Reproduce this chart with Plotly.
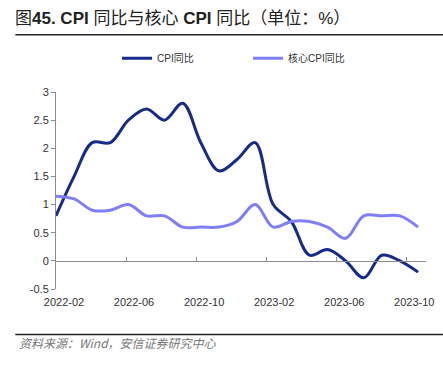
import plotly.graph_objects as go

months = ["2022-02","2022-03","2022-04","2022-05","2022-06","2022-07","2022-08","2022-09","2022-10","2022-11","2022-12",
          "2023-01","2023-02","2023-03","2023-04","2023-05","2023-06","2023-07","2023-08","2023-09","2023-10"]
cpi = [0.8, 1.5, 2.1, 2.1, 2.5, 2.7, 2.5, 2.8, 2.1, 1.6, 1.8, 2.1, 1.0, 0.7, 0.1, 0.2, 0.0, -0.3, 0.1, 0.0, -0.2]
core_cpi = [1.15, 1.1, 0.9, 0.9, 1.0, 0.8, 0.8, 0.6, 0.6, 0.6, 0.7, 1.0, 0.6, 0.7, 0.7, 0.6, 0.4, 0.8, 0.8, 0.8, 0.6]
x_tick_labels = ["2022-02", "2022-06", "2022-10", "2023-02", "2023-06", "2023-10"]
y_tick_vals = [-0.5, 0, 0.5, 1, 1.5, 2, 2.5, 3]
y_tick_text = ["-0.5", "0", "0.5", "1", "1.5", "2", "2.5", "3"]

FONT = "Liberation Sans, Arial, Noto Sans CJK SC"
idx = list(range(len(months)))

fig = go.Figure()
fig.add_trace(go.Scatter(x=idx, y=cpi, name="CPI同比", mode="lines",
                         line=dict(color="#172b8c", width=3, shape="spline", smoothing=1.0),
                         customdata=months))
fig.add_trace(go.Scatter(x=idx, y=core_cpi, name="核心CPI同比", mode="lines",
                         line=dict(color="#7f7ffb", width=3, shape="spline", smoothing=1.0),
                         customdata=months))

step = 3.87
tickpos = [i * step for i in range(len(x_tick_labels))]

fig.update_layout(
    width=443, height=368,
    margin=dict(l=56, r=17, t=92, b=79, autoexpand=False),
    paper_bgcolor="white", plot_bgcolor="white",
    font=dict(family=FONT, size=11, color="#333333"),
    showlegend=True,
    legend=dict(orientation="h", x=0.165, xanchor="left", y=1.171, yanchor="middle",
                font=dict(size=10, color="#333333"), entrywidth=86, entrywidthmode="pixels",
                itemwidth=30, bgcolor="rgba(0,0,0,0)"),
    xaxis=dict(range=[0, 20.44], tickvals=tickpos, ticktext=x_tick_labels, automargin=False,
               showgrid=False, zeroline=False, showline=True, linecolor="#8c8c8c", linewidth=1,
               ticks="inside", ticklen=4, tickcolor="#8c8c8c",
               anchor="free", position=0.5 / 3.5,
               ticklabelstandoff=31, ticklabelshift=8,
               tickfont=dict(size=11, color="#333333")),
    yaxis=dict(range=[-0.5, 3], tickvals=y_tick_vals, ticktext=y_tick_text, automargin=False,
               showgrid=False, zeroline=False, showline=True, linecolor="#8c8c8c", linewidth=1,
               ticks="outside", ticklen=4, tickcolor="#8c8c8c",
               tickfont=dict(size=11, color="#333333")),
    shapes=[
        dict(type="line", xref="paper", yref="paper", x0=-0.110, x1=1.046, y0=1.29, y1=1.29,
             line=dict(color="#222222", width=1.5)),
        dict(type="line", xref="paper", yref="paper", x0=-0.110, x1=1.046, y0=-0.231, y1=-0.231,
             line=dict(color="#222222", width=1.5)),
    ],
    annotations=[
        dict(text="图<b>45. CPI</b> 同比与核心 <b>CPI</b> 同比（单位：%）", xref="paper", yref="paper",
             x=-0.116, y=1.375, xanchor="left", yanchor="middle", showarrow=False,
             font=dict(family="Liberation Sans, Noto Sans CJK SC", size=17, color="#222222")),
        dict(text="<i>资料来源：Wind，安信证券研究中心</i>", xref="paper", yref="paper",
             x=-0.105, y=-0.27, xanchor="left", yanchor="middle", showarrow=False,
             font=dict(family="Noto Sans CJK SC", size=12, color="#777777")),
    ],
)

fig.write_html("out.html", post_script="document.body.style.margin='0px';",
               config={"displayModeBar": False})
